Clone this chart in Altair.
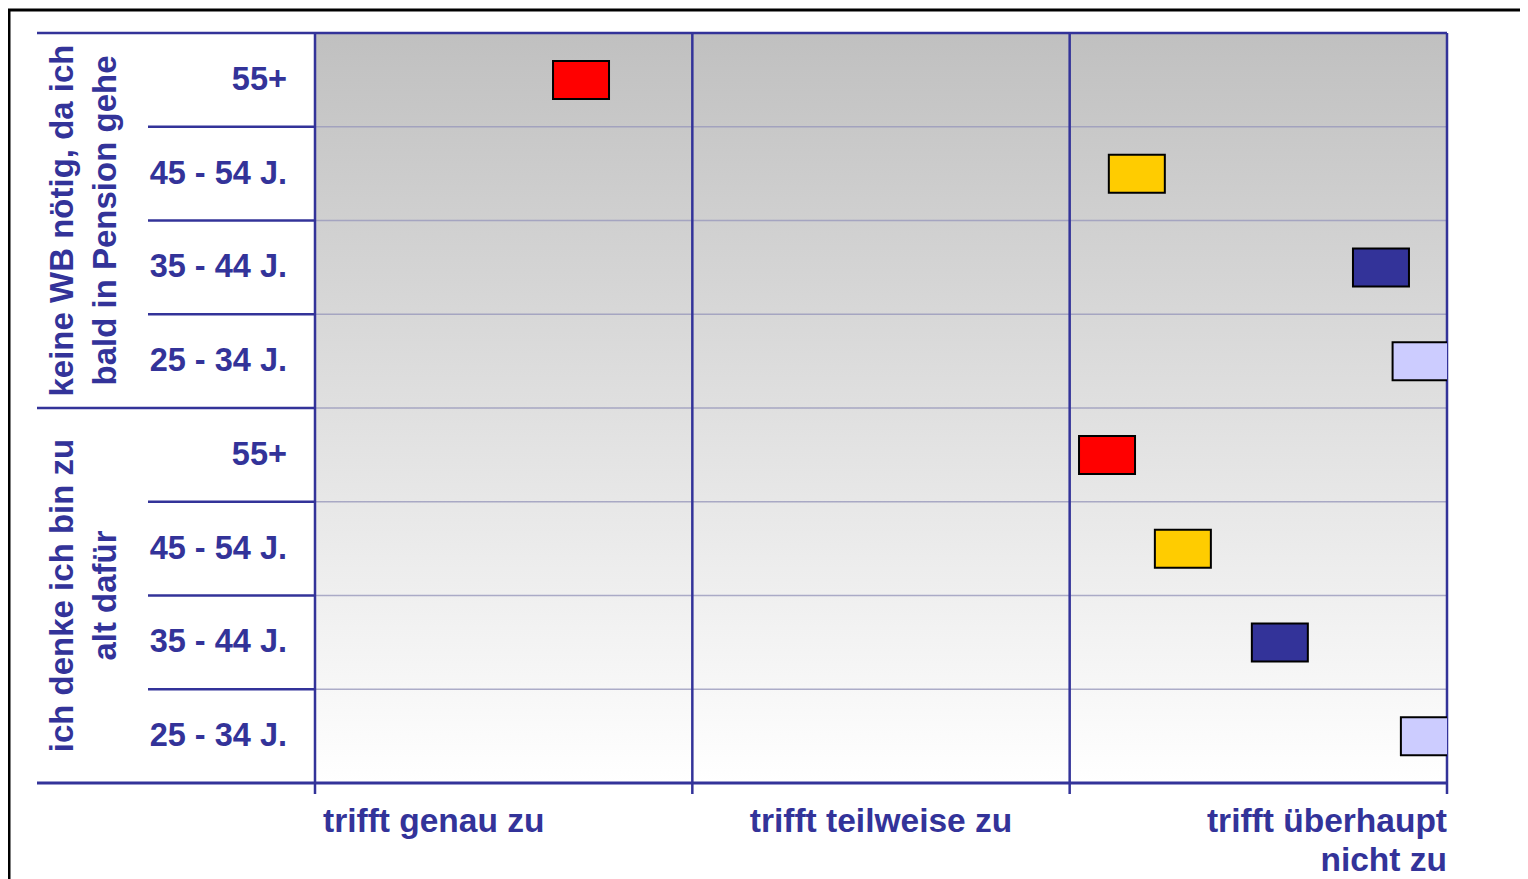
import altair as alt
import pandas as pd

# ---- data ----
groups = ["keine WB nötig, da ich\nbald in Pension gehe", "ich denke ich bin zu\nalt dafür"]
ages = ["55+", "45 - 54 J.", "35 - 44 J.", "25 - 34 J."]
age_colors = ["#FF0000", "#FFCC00", "#333399", "#CCCCFF"]
# position on the scale 0 = "trifft genau zu" ... 3 = "trifft überhaupt nicht zu"
values_pension = [0.705, 2.178, 2.825, 2.930]
values_zu_alt = [2.099, 2.300, 2.557, 2.952]
scale_labels = ["trifft genau zu", "trifft teilweise zu", "trifft überhaupt\nnicht zu"]
scale_label_pos = [0, 1.5, 3]
scale_label_align = ["left", "center", "right"]
grid_ticks = [0, 1, 2, 3]

BLUE = "#333399"
FONT = "Liberation Sans"

rows = []
for gi, vals in enumerate([values_pension, values_zu_alt]):
    for ai, age in enumerate(ages):
        rows.append({"group": groups[gi], "age": age, "row": gi * 4 + ai, "value": vals[ai]})
df = pd.DataFrame(rows)

xs = alt.Scale(domain=[0, 3], nice=False, zero=False)
ys = alt.Scale(domain=[0, 8], nice=False, zero=False, reverse=True)

# background gradient
bg_df = pd.DataFrame({"x0": [0], "x1": [3], "y0": [0], "y1": [8]})
grad = alt.LinearGradient(
    gradient="linear",
    stops=[alt.GradientStop(color="#C0C0C0", offset=0), alt.GradientStop(color="#FFFFFF", offset=1)],
    x1=0, x2=0, y1=0, y2=1,
)
background = alt.Chart(bg_df).mark_rect(fill=grad).encode(
    x=alt.X("x0:Q", scale=xs, axis=None), x2="x1:Q",
    y=alt.Y("y0:Q", scale=ys, axis=None), y2="y1:Q",
)

# horizontal gridlines in plot
hgrid = alt.Chart(pd.DataFrame({"b": [1, 2, 3, 4, 5, 6, 7]})).mark_rule(
    color="#9999BB", strokeWidth=1.5, opacity=0.8
).encode(y=alt.Y("b:Q", scale=ys, axis=None), x=alt.value(0), x2=alt.value(1132))

top_border = alt.Chart(pd.DataFrame({"b": [0]})).mark_rule(color=BLUE, strokeWidth=2.5).encode(
    y=alt.Y("b:Q", scale=ys, axis=None), x=alt.value(-278), x2=alt.value(1132)
)

# vertical lines incl. ticks below axis
vgrid = alt.Chart(pd.DataFrame({"g": grid_ticks})).mark_rule(color=BLUE, strokeWidth=2.5).encode(
    x=alt.X("g:Q", scale=xs, axis=None), y=alt.value(0), y2=alt.value(761)
)

# separators in label area
sep_full = alt.Chart(pd.DataFrame({"b": [4]})).mark_rule(color=BLUE, strokeWidth=2.5).encode(
    y=alt.Y("b:Q", scale=ys, axis=None), x=alt.value(-278), x2=alt.value(0)
)
sep_short = alt.Chart(pd.DataFrame({"b": [1, 2, 3, 5, 6, 7]})).mark_rule(color=BLUE, strokeWidth=2.5).encode(
    y=alt.Y("b:Q", scale=ys, axis=None), x=alt.value(-167), x2=alt.value(0)
)
bottom = alt.Chart(pd.DataFrame({"b": [8]})).mark_rule(color=BLUE, strokeWidth=3).encode(
    y=alt.Y("b:Q", scale=ys, axis=None), x=alt.value(-278), x2=alt.value(1132)
)

# age labels
age_text = alt.Chart(df).transform_calculate(yc="datum.row + 0.5").mark_text(
    align="right", baseline="middle", font=FONT, fontWeight="bold", fontSize=32.5, color=BLUE
).encode(y=alt.Y("yc:Q", scale=ys, axis=None), x=alt.value(-28), text="age:N")

# group labels
grp_df = pd.DataFrame({"group": groups, "gi": [0, 1]})
grp_text = alt.Chart(grp_df).transform_calculate(yc="datum.gi * 4 + 2").mark_text(
    align="center", baseline="middle", angle=270, lineBreak="\n", lineHeight=43,
    font=FONT, fontWeight="bold", fontSize=33, color=BLUE
).encode(y=alt.Y("yc:Q", scale=ys, axis=None), x=alt.value(-252), text="group:N")

# x category labels
lab_layers = []
for lab, pos, al in zip(scale_labels, scale_label_pos, scale_label_align):
    dx = 8 if al == "left" else 0
    lab_layers.append(
        alt.Chart(pd.DataFrame({"label": [lab], "pos": [pos]})).mark_text(
            align=al, baseline="alphabetic", lineBreak="\n", lineHeight=39, dx=dx,
            font=FONT, fontWeight="bold", fontSize=33.5, color=BLUE
        ).encode(x=alt.X("pos:Q", scale=xs, axis=None), y=alt.value(799), text="label:N")
    )

# boxes
boxes = alt.Chart(df).transform_calculate(yc="datum.row + 0.5").mark_rect(
    width=56, height=38, stroke="black", strokeWidth=2, clip=True
).encode(
    x=alt.X("value:Q", scale=xs, axis=None),
    y=alt.Y("yc:Q", scale=ys, axis=None),
    color=alt.Color("age:N", scale=alt.Scale(domain=ages, range=age_colors), legend=None),
)

# outer frame
frame = alt.Chart(pd.DataFrame({"a": [0]})).mark_rect(
    fillOpacity=0, stroke="black", strokeWidth=3
).encode(x=alt.value(-306), x2=alt.value(1300), y=alt.value(-23), y2=alt.value(900))

chart = alt.layer(
    background, hgrid, top_border, vgrid, sep_full, sep_short, bottom,
    age_text, grp_text, *lab_layers, boxes, frame
).properties(
    width=1132, height=750,
    autosize=alt.AutoSizeParams(type="none"),
    padding={"left": 307, "top": 25, "right": 73, "bottom": 96},
).configure_view(stroke=None)

chart.save("out.html", embed_options={"renderer": "svg", "actions": False})
